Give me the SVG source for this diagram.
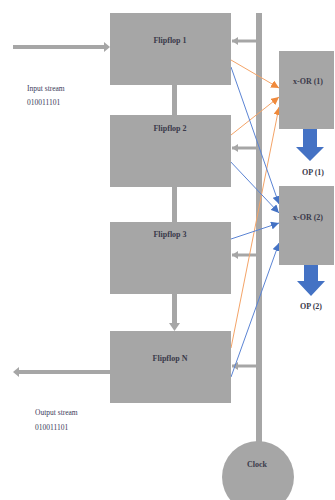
<svg xmlns="http://www.w3.org/2000/svg" width="335" height="500" viewBox="0 0 335 500">
<style>
.box{fill:#a6a6a6;}
.lbl{font-family:"Liberation Serif",serif;font-size:8px;font-weight:bold;fill:#3a3a4a;text-anchor:middle;}
.txt{font-family:"Liberation Serif",serif;font-size:7.5px;fill:#3a3a5a;}
.gray{stroke:#a6a6a6;stroke-width:4;fill:none;}
.clk{stroke:#a6a6a6;stroke-width:3;fill:none;marker-end:url(#gh);}
.or{stroke:#f4a468;stroke-width:1;fill:none;marker-end:url(#oh);}
.bl{stroke:#5b84d4;stroke-width:1;fill:none;marker-end:url(#bh);}
.big{fill:#4472c4;}
</style>
<defs>
<marker id="gh" markerUnits="userSpaceOnUse" markerWidth="8" markerHeight="8" refX="6" refY="4" orient="auto"><path d="M0,0 L6,4 L0,8 Z" fill="#a6a6a6"/></marker>
<marker id="oh" markerUnits="userSpaceOnUse" markerWidth="9" markerHeight="8" refX="8" refY="4" orient="auto"><path d="M0,0 L8,4 L0,8 Z" fill="#f08a3c"/></marker>
<marker id="bh" markerUnits="userSpaceOnUse" markerWidth="9" markerHeight="8" refX="8" refY="4" orient="auto"><path d="M0,0 L8,4 L0,8 Z" fill="#4472c4"/></marker>
</defs>
<g id="connectors">
<rect x="256" y="13" width="6" height="430" fill="#a6a6a6"/>
<line class="gray" x1="13" y1="47" x2="104" y2="47"/>
<path d="M104,42 L110,47 L104,52 Z" fill="#a6a6a6"/>
<line class="gray" x1="110" y1="372" x2="19" y2="372"/>
<path d="M19,367 L13,372 L19,377 Z" fill="#a6a6a6"/>
<rect x="172" y="85" width="5" height="30" fill="#a6a6a6"/>
<rect x="172" y="187" width="5" height="35" fill="#a6a6a6"/>
<rect x="172" y="294" width="5" height="30" fill="#a6a6a6"/>
<path d="M169,323 L174.5,331 L180,323 Z" fill="#a6a6a6"/>
<line class="clk" x1="256" y1="41" x2="232" y2="41"/>
<line class="clk" x1="256" y1="148" x2="232" y2="148"/>
<line class="clk" x1="256" y1="255" x2="232" y2="255"/>
<line class="clk" x1="256" y1="366" x2="232" y2="366"/>
<line class="or" x1="231" y1="60" x2="279" y2="88"/>
<line class="or" x1="231" y1="135" x2="279" y2="97"/>
<line class="or" x1="231" y1="348" x2="279" y2="107"/>
<line class="bl" x1="231" y1="67" x2="279" y2="204"/>
<line class="bl" x1="229" y1="160" x2="279" y2="213"/>
<line class="bl" x1="231" y1="239" x2="279" y2="223"/>
<line class="bl" x1="231" y1="377" x2="279" y2="243"/>
<path class="big" d="M303,129 L317,129 L317,147 L324,147 L310,161 L296,147 L303,147 Z"/>
<path class="big" d="M304,265 L318,265 L318,281 L325,281 L311,296 L297,281 L304,281 Z"/>
</g>
<g id="ff1"><rect class="box" x="110" y="13" width="121" height="72"/><text class="lbl" x="170" y="43">Flipflop 1</text></g>
<g id="ff2"><rect class="box" x="110" y="115" width="121" height="72"/><text class="lbl" x="170" y="131">Flipflop 2</text></g>
<g id="ff3"><rect class="box" x="110" y="222" width="121" height="72"/><text class="lbl" x="170" y="237">Flipflop 3</text></g>
<g id="ffn"><rect class="box" x="110" y="331" width="121" height="72"/><text class="lbl" x="170" y="361">Flipflop N</text></g>
<g id="xor1"><rect class="box" x="279" y="51" width="55" height="78"/><text class="lbl" x="308" y="84">x-OR (1)</text></g>
<g id="xor2"><rect class="box" x="279" y="186" width="55" height="79"/><text class="lbl" x="308" y="220">x-OR (2)</text></g>
<g id="clock"><circle cx="258" cy="477" r="36" fill="#a6a6a6"/><text class="lbl" x="257" y="467">Clock</text></g>
<g id="labels">
<text class="lbl" x="313" y="175">OP (1)</text>
<text class="lbl" x="311" y="309">OP (2)</text>
<text class="txt" x="27" y="91">Input stream</text>
<text class="txt" x="27" y="105">010011101</text>
<text class="txt" x="35" y="415">Output stream</text>
<text class="txt" x="35" y="430">010011101</text>
</g>
</svg>
